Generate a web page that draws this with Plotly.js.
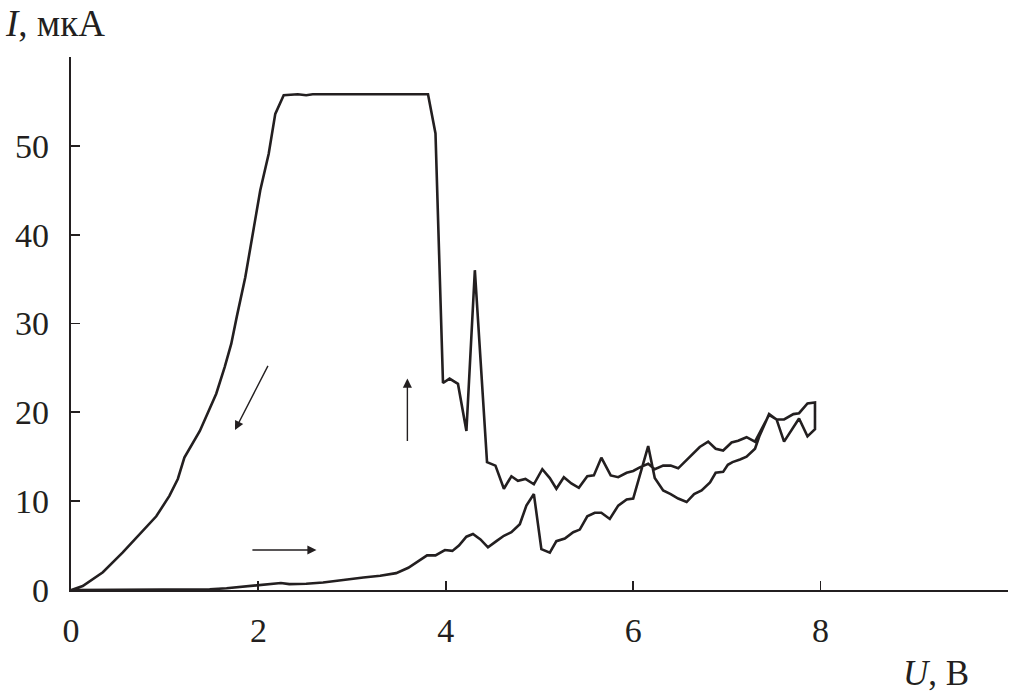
<!DOCTYPE html>
<html>
<head>
<meta charset="utf-8">
<script src="https://cdn.plot.ly/plotly-3.0.1.min.js"></script>
<style>html,body{margin:0;padding:0;background:#fff;}</style>
</head>
<body>
<div id="chart" style="width:1011px;height:698px;"></div>
<script>
// Forward sweep (lower branch), U in V, I in µA
const fwdU = [0, 0.94, 1.48, 1.66, 1.87, 2.08, 2.24, 2.33, 2.51, 2.69, 2.94, 3.12, 3.30, 3.47, 3.60, 3.70, 3.80, 3.89, 3.99, 4.07, 4.14, 4.22, 4.29, 4.37, 4.45, 4.54, 4.62, 4.70, 4.79, 4.86, 4.94, 5.02, 5.11, 5.18, 5.27, 5.36, 5.43, 5.51, 5.59, 5.66, 5.75, 5.84, 5.93, 6.00, 6.16, 6.23, 6.32, 6.40, 6.48, 6.57, 6.65, 6.73, 6.82, 6.88, 6.96, 7.01, 7.06, 7.14, 7.21, 7.30, 7.35, 7.45, 7.53, 7.61, 7.77, 7.86, 7.94];
const fwdI = [0, 0, 0.08, 0.2, 0.39, 0.58, 0.78, 0.66, 0.7, 0.85, 1.2, 1.4, 1.6, 1.9, 2.5, 3.2, 3.9, 3.9, 4.5, 4.4, 5.0, 6.0, 6.3, 5.7, 4.8, 5.5, 6.1, 6.5, 7.4, 9.5, 10.8, 4.6, 4.2, 5.5, 5.8, 6.5, 6.8, 8.3, 8.7, 8.7, 8.0, 9.5, 10.2, 10.3, 16.2, 12.6, 11.2, 10.8, 10.3, 9.9, 10.8, 11.2, 12.1, 13.2, 13.3, 14.1, 14.4, 14.7, 15.0, 15.9, 17.4, 19.8, 19.2, 16.7, 19.3, 17.3, 18.1];
// Reverse sweep (upper branch)
const revU = [7.94, 7.86, 7.77, 7.71, 7.61, 7.53, 7.45, 7.30, 7.21, 7.12, 7.05, 6.96, 6.88, 6.80, 6.71, 6.57, 6.48, 6.40, 6.32, 6.23, 6.16, 6.07, 6.00, 5.93, 5.84, 5.76, 5.66, 5.58, 5.51, 5.42, 5.34, 5.26, 5.18, 5.11, 5.03, 4.94, 4.85, 4.77, 4.70, 4.62, 4.53, 4.44, 4.31, 4.22, 4.13, 4.04, 3.97, 3.89, 3.81, 2.58, 2.51, 2.42, 2.27, 2.18, 2.11, 2.02, 1.94, 1.86, 1.77, 1.71, 1.64, 1.55, 1.375, 1.21, 1.14, 1.05, 0.91, 0.73, 0.55, 0.34, 0.125, 0];
const revI = [21.1, 21.0, 19.9, 19.8, 19.2, 19.2, 19.7, 16.7, 17.2, 16.8, 16.6, 15.7, 15.9, 16.7, 16.1, 14.7, 13.7, 14.0, 14.0, 13.6, 14.2, 13.8, 13.4, 13.2, 12.7, 12.9, 14.9, 12.9, 12.8, 11.5, 12.0, 12.7, 11.4, 12.6, 13.6, 11.9, 12.5, 12.3, 12.8, 11.4, 14.0, 14.4, 36.0, 17.9, 23.2, 23.8, 23.3, 51.4, 55.8, 55.8, 55.7, 55.8, 55.7, 53.6, 49.1, 45.0, 40.1, 35.2, 30.8, 27.7, 25.1, 22.1, 17.9, 14.9, 12.5, 10.6, 8.3, 6.3, 4.2, 2.0, 0.45, 0];

const xTicks = [0, 2, 4, 6, 8];
const yTicks = [0, 10, 20, 30, 40, 50];
const xTitle = '<i>U</i>, В';
const yTitle = '<i>I</i>, мкА';

const ink = '#231f20';
const fontFam = '"Liberation Serif", "Times New Roman", serif';

const trace = {
  x: fwdU.concat(revU),
  y: fwdI.concat(revI),
  type: 'scatter',
  mode: 'lines',
  line: {color: ink, width: 2.6},
  hoverinfo: 'skip'
};

function arrow(x0, y0, x1, y1) {
  return {x: x1, y: y1, ax: x0, ay: y0, xref: 'x', yref: 'y', axref: 'x', ayref: 'y',
    text: '', showarrow: true, arrowhead: 2, arrowsize: 1.3, arrowwidth: 1.4, arrowcolor: ink};
}

const layout = {
  width: 1011, height: 698,
  margin: {l: 71, r: 3, t: 57, b: 108},
  paper_bgcolor: '#ffffff', plot_bgcolor: '#ffffff',
  showlegend: false,
  font: {family: fontFam, size: 34, color: ink},
  xaxis: {
    range: [0, 10], tickvals: xTicks, ticktext: xTicks.map(String),
    showgrid: false, zeroline: false, showline: true, linecolor: ink, linewidth: 2.2,
    ticks: 'inside', ticklen: 9, tickwidth: 1.8, tickcolor: ink,
    ticklabelstandoff: 9,
    tickfont: {family: fontFam, size: 34, color: ink}
  },
  yaxis: {
    range: [0, 60], tickvals: yTicks, ticktext: yTicks.map(String),
    showgrid: false, zeroline: false, showline: true, linecolor: ink, linewidth: 2.2,
    ticks: 'inside', ticklen: 9, tickwidth: 1.8, tickcolor: ink,
    ticklabelstandoff: 13,
    tickfont: {family: fontFam, size: 34, color: ink}
  },
  annotations: [
    arrow(2.11, 25.4, 1.75, 18.0),
    arrow(3.59, 16.6, 3.59, 23.8),
    arrow(1.92, 4.5, 2.62, 4.5),
    {text: yTitle, xref: 'paper', yref: 'paper', x: -0.073, y: 1.063, xanchor: 'left', yanchor: 'middle',
     showarrow: false, font: {family: fontFam, size: 37, color: ink}},
    {text: xTitle, xref: 'paper', yref: 'paper', x: 0.886, y: -0.156, xanchor: 'left', yanchor: 'middle',
     showarrow: false, font: {family: fontFam, size: 35, color: ink}}
  ]
};

Plotly.newPlot('chart', [trace], layout, {staticPlot: true, displayModeBar: false});
</script>
</body>
</html>
